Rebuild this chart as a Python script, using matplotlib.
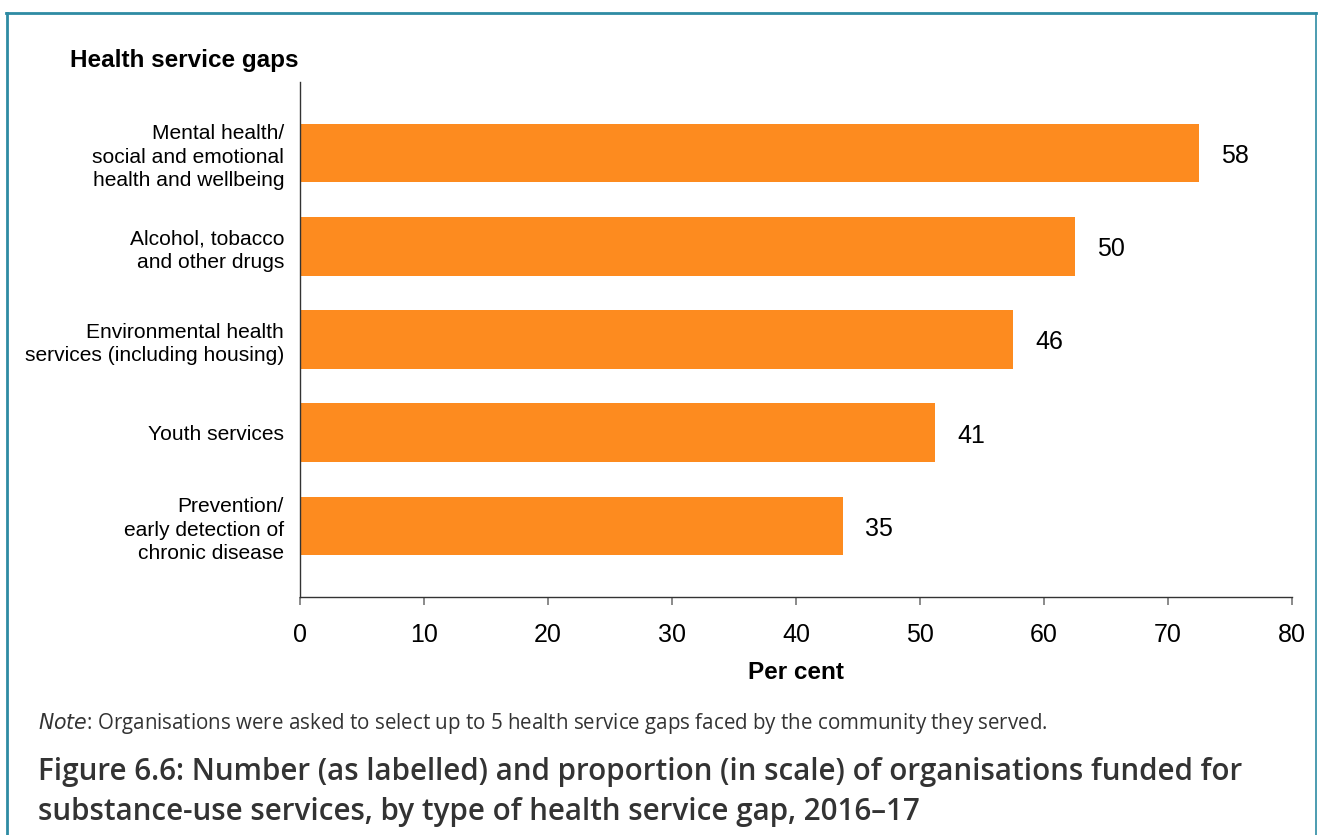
import matplotlib
matplotlib.use("Agg")
import matplotlib.pyplot as plt
from matplotlib.lines import Line2D

# Health service gaps, top to bottom
categories = [
    "Mental health/\nsocial and emotional\nhealth and wellbeing",
    "Alcohol, tobacco\nand other drugs",
    "Environmental health\nservices (including housing)",
    "Youth services",
    "Prevention/\nearly detection of\nchronic disease",
]
# Number of organisations reporting each gap
counts = [58, 50, 46, 41, 35]
# Organisations funded for substance-use services
total_orgs = 80
percent = [c / total_orgs * 100 for c in counts]

x_ticks = [0, 10, 20, 30, 40, 50, 60, 70, 80]

W, H, DPI = 1322, 835, 100
fig = plt.figure(figsize=(W / DPI, H / DPI), dpi=DPI)

ax = fig.add_axes([300 / W, 1 - 597 / H, 992 / W, 515 / H])

y = list(range(len(categories)))
bars = ax.barh(y, percent, height=0.63, color="#FD8B1F", zorder=2)
ax.set_ylim(len(categories) - 0.24, -0.76)
ax.set_xlim(0, 80)
ax.set_xticks(x_ticks)
ax.set_xticklabels([str(t) for t in x_ticks], fontsize=18, family="Liberation Sans")
ax.set_yticks(y)
ax.set_yticklabels(categories, fontsize=15.1, family="Liberation Sans",
                   linespacing=1.3)
ax.tick_params(axis="y", length=0, pad=11.5)
ax.tick_params(axis="x", length=6, width=1.2, color="#777777", direction="out", pad=13)

for side in ("top", "right"):
    ax.spines[side].set_visible(False)
for side in ("left", "bottom"):
    ax.spines[side].set_color("#333333")
    ax.spines[side].set_linewidth(1.0)

for b, c in zip(bars, counts):
    ax.text(b.get_width() + 1.8, b.get_y() + b.get_height() / 2 + 0.03, str(c),
            va="center", ha="left", fontsize=18, family="Liberation Sans")

ax.set_xlabel("Per cent", fontsize=17.5, fontweight="bold", family="Liberation Sans",
              labelpad=10)

fig.text(70 / W, 1 - 60 / H, "Health service gaps", fontsize=17.5, fontweight="bold",
         family="Liberation Sans", ha="left", va="center")

fig.text(38 / W, 1 - 724 / H,
         r"$\it{Note}$: Organisations were asked to select up to 5 health service gaps faced by the community they served.",
         fontsize=14.8, family="Open Sans", color="#333333", ha="left", va="center")
fig.text(38 / W, 1 - 792 / H,
         "Figure 6.6: Number (as labelled) and proportion (in scale) of organisations funded for\n"
         "substance-use services, by type of health service gap, 2016\u201317",
         fontsize=21.3, family="Open Sans", fontweight="semibold", color="#333333",
         ha="left", va="center", linespacing=1.4)

# Frame around the figure
border = "#2E8BA3"
fig.add_artist(Line2D([7 / W, 7 / W], [0, 1 - 13 / H], color=border, lw=2,
                      transform=fig.transFigure))
fig.add_artist(Line2D([6 / W, 1316 / W], [1 - 13 / H, 1 - 13 / H], color=border, lw=2,
                      transform=fig.transFigure))
fig.add_artist(Line2D([1316 / W, 1316 / W], [0, 1 - 13 / H], color=border, lw=1.2,
                      transform=fig.transFigure))

fig.savefig("out.png", dpi=DPI)
